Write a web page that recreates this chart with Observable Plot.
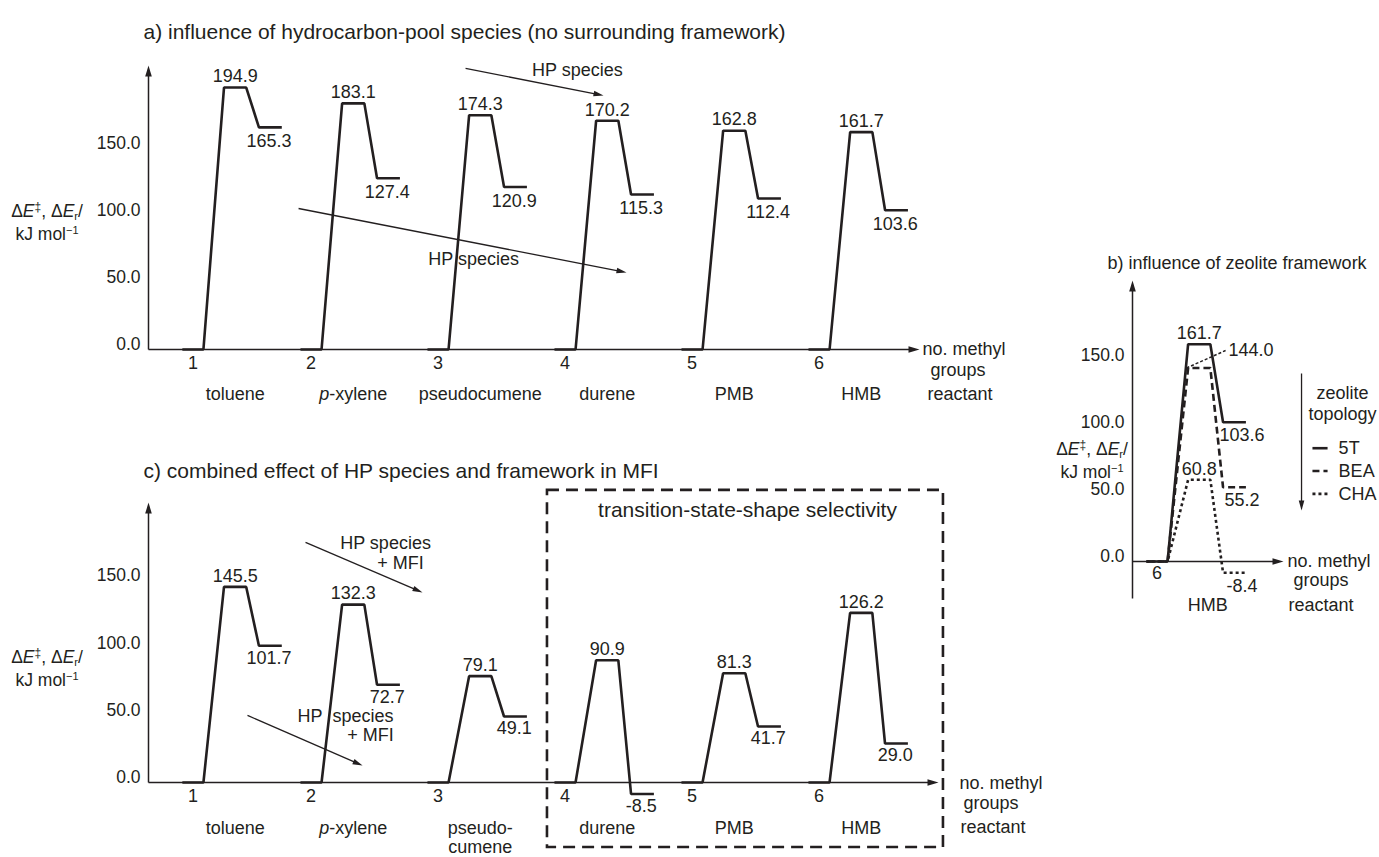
<!DOCTYPE html>
<html><head><meta charset="utf-8">
<script src="https://cdn.jsdelivr.net/npm/d3@7"></script>
<script src="https://cdn.jsdelivr.net/npm/@observablehq/plot@0.6"></script>
<style>
body{margin:0;background:#fff;}
#wrap{position:relative;width:1379px;height:857px;overflow:hidden;background:#fff;}
#wrap > svg{position:absolute;}
</style></head><body><div id="wrap"></div>
<script>
// ---------------- data ----------------
const methylGroups = [1, 2, 3, 4, 5, 6];
const methylPos = [1.07, 2, 3, 4, 5, 6];           // where each reactant sits on the x axis
const reactantsA = ["toluene", "p-xylene", "pseudocumene", "durene", "PMB", "HMB"];
const reactantsC = ["toluene", "p-xylene", "pseudo-\ncumene", "durene", "PMB", "HMB"];
const tsA   = [194.9, 183.1, 174.3, 170.2, 162.8, 161.7];
const prodA = [165.3, 127.4, 120.9, 115.3, 112.4, 103.6];
const tsC   = [145.5, 132.3, 79.1, 90.9, 81.3, 126.2];
const prodC = [101.7, 72.7, 49.1, -8.5, 41.7, 29.0];
const zeolites = ["5T", "BEA", "CHA"];
const tsB   = [161.7, 144.0, 60.8];
const prodB = [103.6, 55.2, -8.4];
const reactantB = "HMB";
const methylB = 6;
const yTicks = [0, 50, 100, 150];

const titleA = "a) influence of hydrocarbon-pool species (no surrounding framework)";
const titleB = "b) influence of zeolite framework";
const titleC = "c) combined effect of HP species and framework in MFI";
const boxTitle = "transition-state-shape selectivity";

// ---------------- style ----------------
const INK = "#231f20";
const FONT = '"Liberation Sans", Arial, Helvetica, sans-serif';
const shape = [-0.083, 0.083, 0.245, 0.42, 0.52, 0.70];
const wrap = document.getElementById("wrap");

function profilePoints(key, pos, ts, prod) {
  const levels = [0, 0, ts, ts, prod, prod];
  return shape.map((dx, k) => ({key, x: pos + dx, y: levels[k]}));
}
function scales(cfg) {
  return {
    kx: (cfg.width - cfg.marginLeft - cfg.marginRight) / (cfg.xDom[1] - cfg.xDom[0]),
    ky: (cfg.height - cfg.marginTop - cfg.marginBottom) / (cfg.yDom[1] - cfg.yDom[0])
  };
}
function arrowMarks(arrows, k, {strokeWidth = 1.3, length = 10, r = 3} = {}) {
  const rows = arrows.map(a => {
    const dxp = (a.x2 - a.x1) * k.kx, dyp = (a.y2 - a.y1) * k.ky;
    const L = Math.hypot(dxp, dyp), t = (L - length * 0.6) / L;
    return {...a, ex: a.x1 + (a.x2 - a.x1) * t, ey: a.y1 + (a.y2 - a.y1) * t,
            rot: Math.atan2(dxp, dyp) * 180 / Math.PI};
  });
  return [
    Plot.link(rows, {x1: "x1", y1: "y1", x2: "ex", y2: "ey", stroke: INK, strokeWidth}),
    Plot.vector(rows, {x: "x2", y: "y2", rotate: "rot", length, r, shape: "spike", anchor: "end", fill: INK, stroke: "none"})
  ];
}
function render(cfg, marks) {
  const svg = Plot.plot({
    width: cfg.width, height: cfg.height,
    marginLeft: cfg.marginLeft, marginRight: cfg.marginRight,
    marginTop: cfg.marginTop, marginBottom: cfg.marginBottom,
    x: {domain: cfg.xDom}, y: {domain: cfg.yDom},
    style: {fontFamily: FONT, fontSize: "18px", color: INK, background: "transparent", overflow: "visible"},
    marks
  });
  svg.style.left = cfg.left + "px";
  svg.style.top = cfg.top + "px";
  wrap.append(svg);
  d3.select(svg).selectAll("text").filter(function () { return this.textContent === "p-xylene"; })
    .each(function () {
      const t = d3.select(this); t.text("");
      t.append("tspan").attr("font-style", "italic").text("p");
      t.append("tspan").text("-xylene");
    });
  return svg;
}
function yLabel(svg, cx, cy) {
  const g = d3.select(svg).append("g").attr("fill", INK).attr("font-family", FONT)
    .attr("font-size", 17.5).attr("text-anchor", "middle");
  const t1 = g.append("text").attr("x", cx).attr("y", cy).attr("dy", "0.32em");
  t1.append("tspan").text("Δ");
  t1.append("tspan").attr("font-style", "italic").text("E");
  t1.append("tspan").attr("font-size", 12).attr("dy", -6).text("‡");
  t1.append("tspan").attr("dy", 6).text(", Δ");
  t1.append("tspan").attr("font-style", "italic").text("E");
  t1.append("tspan").attr("font-size", 11).attr("dy", 3).text("r");
  t1.append("tspan").attr("dy", -3).text("/");
  const t2 = g.append("text").attr("x", cx).attr("y", cy + 23).attr("dy", "0.32em");
  t2.append("tspan").text("kJ mol");
  t2.append("tspan").attr("font-size", 11).attr("dy", -6).text("−1");
}
const yAxisMark = () => Plot.axisY({ticks: yTicks, tickFormat: d => d.toFixed(1), tickSize: 0, tickPadding: 8, dy: -5, label: null, fontSize: 17.5});

// ---------------- panel a ----------------
const cfgA = {left: 0, top: 0, width: 1010, height: 410, marginLeft: 148, marginRight: 91, marginTop: 65, marginBottom: 61,
              xDom: [0.7205, 6.791], yDom: [0, 211.3]};
const kA = scales(cfgA);
const rowsA = reactantsA.map((name, i) => ({name, pos: methylPos[i], ts: tsA[i], prod: prodA[i]}));
const linesA = rowsA.flatMap(d => profilePoints(d.name, d.pos, d.ts, d.prod));
const axesA = [{x1: cfgA.xDom[0], y1: 0, x2: cfgA.xDom[0], y2: cfgA.yDom[1]}, {x1: cfgA.xDom[0], y1: 0, x2: cfgA.xDom[1], y2: 0}];
const hpArrowsA = [{x1: 3.217, y1: 209.1, x2: 4.303, y2: 189}, {x1: 1.902, y1: 104.9, x2: 4.484, y2: 57.3}];
const hpLabelsA = [{x: 4.098, y: 207.6, t: "HP species"}, {x: 3.28, y: 67, t: "HP species"}];
const svgA = render(cfgA, [
  ...arrowMarks(axesA, kA, {strokeWidth: 1.5, length: 11, r: 3.3}),
  yAxisMark(),
  Plot.axisX({ticks: methylPos, tickFormat: (d, i) => methylGroups[i], tickSize: 0, tickPadding: 7, label: null}),
  Plot.line(linesA, {x: "x", y: "y", z: "key", stroke: INK, strokeWidth: 2.6, strokeLinejoin: "miter", strokeLinecap: "butt"}),
  Plot.text(rowsA, {x: d => d.pos + 0.333, y: "ts", text: d => d.ts.toFixed(1), dy: -11}),
  Plot.text(rowsA, {x: d => d.pos + 0.6, y: "prod", text: d => d.prod.toFixed(1), dy: 14}),
  Plot.text(rowsA, {x: d => d.pos + 0.333, y: 0, text: "name", dy: 45}),
  Plot.text(["no. methyl"], {x: cfgA.xDom[1], y: 0, text: d => d, textAnchor: "start", dx: 3}),
  Plot.text(["groups"], {x: cfgA.xDom[1], y: 0, text: d => d, textAnchor: "start", dx: 11, dy: 21}),
  Plot.text(["reactant"], {x: cfgA.xDom[1], y: 0, text: d => d, textAnchor: "start", dx: 8, dy: 45}),
  ...arrowMarks(hpArrowsA, kA, {strokeWidth: 1.3, length: 10, r: 2.8}),
  Plot.text(hpLabelsA, {x: "x", y: "y", text: "t"}),
  Plot.text([titleA], {frameAnchor: "top-left", text: d => d, textAnchor: "start", dx: -5, dy: -41, fontSize: 21})
]);
yLabel(svgA, 47, 211);

// ---------------- panel b ----------------
const cfgB = {left: 1040, top: 230, width: 339, height: 400, marginLeft: 92, marginRight: 96, marginTop: 50, marginBottom: 69,
              xDom: [5.807, 6.996], yDom: [0, 209.1]};
const kB = scales(cfgB);
const rowsB = zeolites.map((z, i) => ({z, ts: tsB[i], prod: prodB[i]}));
const dashB = {"5T": null, "BEA": "7,4", "CHA": "3,3"};
const axesB = [{x1: cfgB.xDom[0], y1: -27.5, x2: cfgB.xDom[0], y2: cfgB.yDom[1]}, {x1: cfgB.xDom[0], y1: 0, x2: cfgB.xDom[1], y2: 0}];
const legendArrowB = [{x1: 7.138, y1: 139.9, x2: 7.138, y2: 37.9}];
const legendRowsB = zeolites.map((z, i) => ({z, y: 84.3 - i * 17}));
const profileMarksB = ["CHA", "BEA", "5T"].map(z => {
  const d = rowsB.find(r => r.z === z);
  return Plot.line(profilePoints(z, methylB, d.ts, d.prod), {x: "x", y: "y", stroke: INK, strokeWidth: 2.6,
    strokeDasharray: dashB[z], strokeLinejoin: "miter", strokeLinecap: "butt"});
});
const legendMarksB = legendRowsB.map(d => Plot.link([d], {x1: 7.224, x2: 7.343, y1: "y", y2: "y", stroke: INK, strokeWidth: 2.6, strokeDasharray: dashB[d.z]}));
const beaRow = rowsB.find(r => r.z === "BEA");
const svgB = render(cfgB, [
  ...arrowMarks(axesB, kB, {strokeWidth: 1.5, length: 11, r: 3.3}),
  yAxisMark(),
  Plot.axisX({ticks: [methylB], tickFormat: d => String(d), tickSize: 0, tickPadding: 5, label: null}),
  ...profileMarksB,
  Plot.text(rowsB.filter(d => d.z !== "BEA"), {x: methylB + 0.333, y: "ts", text: d => d.ts.toFixed(1), dy: -11}),
  Plot.link([beaRow], {x1: methylB + 0.232, y1: "ts", x2: methylB + 0.54, y2: d => d.ts + 13, stroke: INK, strokeWidth: 1.5, strokeDasharray: "3,2"}),
  Plot.text([beaRow], {x: methylB + 0.563, y: d => d.ts + 13, text: d => d.ts.toFixed(1), textAnchor: "start"}),
  Plot.text(rowsB, {x: methylB + 0.67, y: "prod", text: d => d.prod.toFixed(1), dy: 13}),
  Plot.text([reactantB], {x: methylB + 0.4, y: 0, text: d => d, dy: 44}),
  Plot.text(["no. methyl"], {x: cfgB.xDom[1], y: 0, text: d => d, textAnchor: "start", dx: 4}),
  Plot.text(["groups"], {x: cfgB.xDom[1], y: 0, text: d => d, textAnchor: "start", dx: 10, dy: 19}),
  Plot.text(["reactant"], {x: cfgB.xDom[1], y: 0, text: d => d, textAnchor: "start", dx: 5, dy: 44}),
  ...arrowMarks(legendArrowB, kB, {strokeWidth: 1.3, length: 10, r: 2.8}),
  Plot.text(["zeolite\ntopology"], {x: 7.46, y: 125.7, text: d => d, lineAnchor: "top", dy: -8, lineHeight: 1.15}),
  ...legendMarksB,
  Plot.text(legendRowsB, {x: 7.43, y: "y", text: "z", textAnchor: "start"}),
  Plot.text([titleB], {frameAnchor: "top-left", text: d => d, textAnchor: "start", dx: -25, dy: -24, fontSize: 18})
]);
yLabel(svgB, 52, 219);

// ---------------- panel c ----------------
const cfgC = {left: 0, top: 430, width: 1070, height: 427, marginLeft: 148, marginRight: 132, marginTop: 72, marginBottom: 75,
              xDom: [0.7205, 6.941], yDom: [0, 208.3]};
const kC = scales(cfgC);
const rowsC = reactantsC.map((name, i) => ({name, pos: methylPos[i], ts: tsC[i], prod: prodC[i]}));
const linesC = rowsC.flatMap(d => profilePoints(d.name, d.pos, d.ts, d.prod));
const axesC = [{x1: cfgC.xDom[0], y1: 0, x2: cfgC.xDom[0], y2: cfgC.yDom[1]}, {x1: cfgC.xDom[0], y1: 0, x2: cfgC.xDom[1], y2: 0}];
const hpArrowsC = [{x1: 1.957, y1: 178.6, x2: 2.878, y2: 141.4}, {x1: 1.5, y1: 49.9, x2: 2.406, y2: 12.6}];
const hpLabelsC = [
  {x: 2.587, y: 177.8, t: "HP species"}, {x: 2.705, y: 163, t: "+ MFI"},
  {x: 2.272, y: 49.6, t: "HP\u00a0 species"}, {x: 2.469, y: 35.2, t: "+ MFI"}
];
const selBox = [{x1: 3.862, x2: 6.98, y1: -48.4, y2: 217.3}];
const svgC = render(cfgC, [
  Plot.rect(selBox, {x1: "x1", x2: "x2", y1: "y1", y2: "y2", fill: "none", stroke: INK, strokeWidth: 2.6, strokeDasharray: "12,7"}),
  Plot.text([boxTitle], {x: 5.437, y: 202.4, text: d => d, fontSize: 21}),
  ...arrowMarks(axesC, kC, {strokeWidth: 1.5, length: 11, r: 3.3}),
  yAxisMark(),
  Plot.axisX({ticks: methylPos, tickFormat: (d, i) => methylGroups[i], tickSize: 0, tickPadding: 7, label: null}),
  Plot.line(linesC, {x: "x", y: "y", z: "key", stroke: INK, strokeWidth: 2.6, strokeLinejoin: "miter", strokeLinecap: "butt"}),
  Plot.text(rowsC, {x: d => d.pos + 0.333, y: "ts", text: d => d.ts.toFixed(1), dy: -11}),
  Plot.text(rowsC, {x: d => d.pos + 0.6, y: "prod", text: d => d.prod.toFixed(1), dy: 12}),
  Plot.text(rowsC, {x: d => d.pos + 0.333, y: 0, text: "name", lineAnchor: "top", dy: 37, lineHeight: 1.1}),
  Plot.text(["no. methyl"], {x: cfgC.xDom[1], y: 0, text: d => d, textAnchor: "start", dx: 21, dy: 1}),
  Plot.text(["groups"], {x: cfgC.xDom[1], y: 0, text: d => d, textAnchor: "start", dx: 25, dy: 21}),
  Plot.text(["reactant"], {x: cfgC.xDom[1], y: 0, text: d => d, textAnchor: "start", dx: 22, dy: 45}),
  ...arrowMarks(hpArrowsC, kC, {strokeWidth: 1.3, length: 10, r: 2.8}),
  Plot.text(hpLabelsC, {x: "x", y: "y", text: "t"}),
  Plot.text([titleC], {frameAnchor: "top-left", text: d => d, textAnchor: "start", dx: -5, dy: -39, fontSize: 21})
]);
yLabel(svgC, 47, 227);
</script>
</body></html>
